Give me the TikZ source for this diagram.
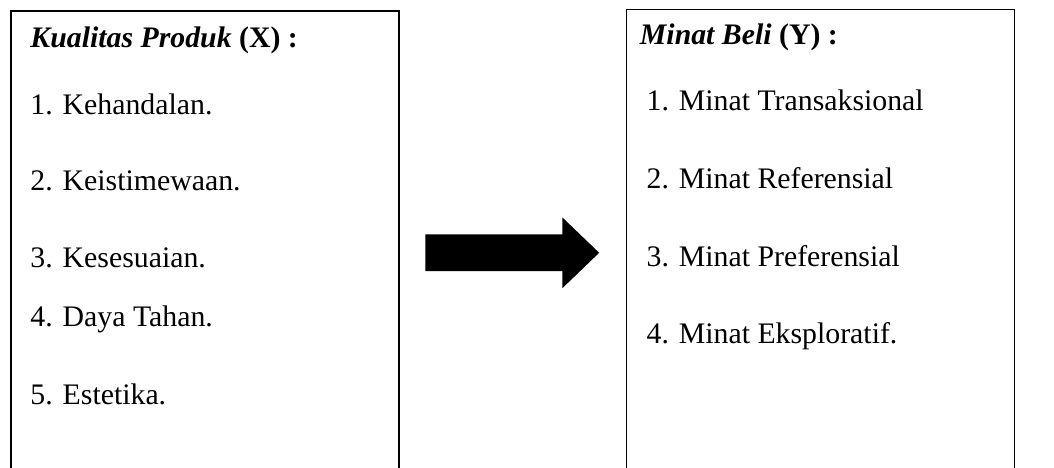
\documentclass[tikz,border=0pt]{standalone}
\usepackage{fontspec}
\setmainfont{Liberation Serif}
\begin{document}
\begin{tikzpicture}[x=0.945pt,y=-0.945pt,
  frame/.style={draw=black, line width=1.3pt, anchor=north west, inner sep=0pt,
                minimum width=388pt, minimum height=520pt},
  txt/.style={anchor=base west, inner sep=0pt, font=\fontsize{29.8}{34}\selectfont},
  blockarrow/.style={fill=black}]
\useasboundingbox (0,0) rectangle (1115.3,495.2);
\clip (0,0) rectangle (1115.3,495.2);

% variable boxes (open towards the lower edge)
\node[frame] (boxX) at (11,11) {};
\node[frame] (boxY) at (662,9) {};

% independent variable
\node[txt] (tX) at (32,50) {\textbf{\textit{Kualitas Produk}} \textbf{(X) :}};
\node[txt] (x1) at (32,121) {1. Kehandalan.};
\node[txt] (x2) at (32,202) {2. Keistimewaan.};
\node[txt] (x3) at (32,283) {3. Kesesuaian.};
\node[txt] (x4) at (32,346) {4. Daya Tahan.};
\node[txt] (x5) at (32,428) {5. Estetika.};

% dependent variable
\node[txt] (tY) at (677,47) {\textbf{\textit{Minat Beli}} \textbf{(Y) :}};
\node[txt] (y1) at (684,117) {1. Minat Transaksional};
\node[txt] (y2) at (684,199) {2. Minat Referensial};
\node[txt] (y3) at (684,282) {3. Minat Preferensial};
\node[txt] (y4) at (684,364) {4. Minat Eksploratif.};

% block arrow between the two boxes
\fill[blockarrow] (450,248) -- (595,248) -- (595,230) -- (634,267.5)
  -- (595,305) -- (595,287) -- (450,287) -- cycle;
\end{tikzpicture}
\end{document}
